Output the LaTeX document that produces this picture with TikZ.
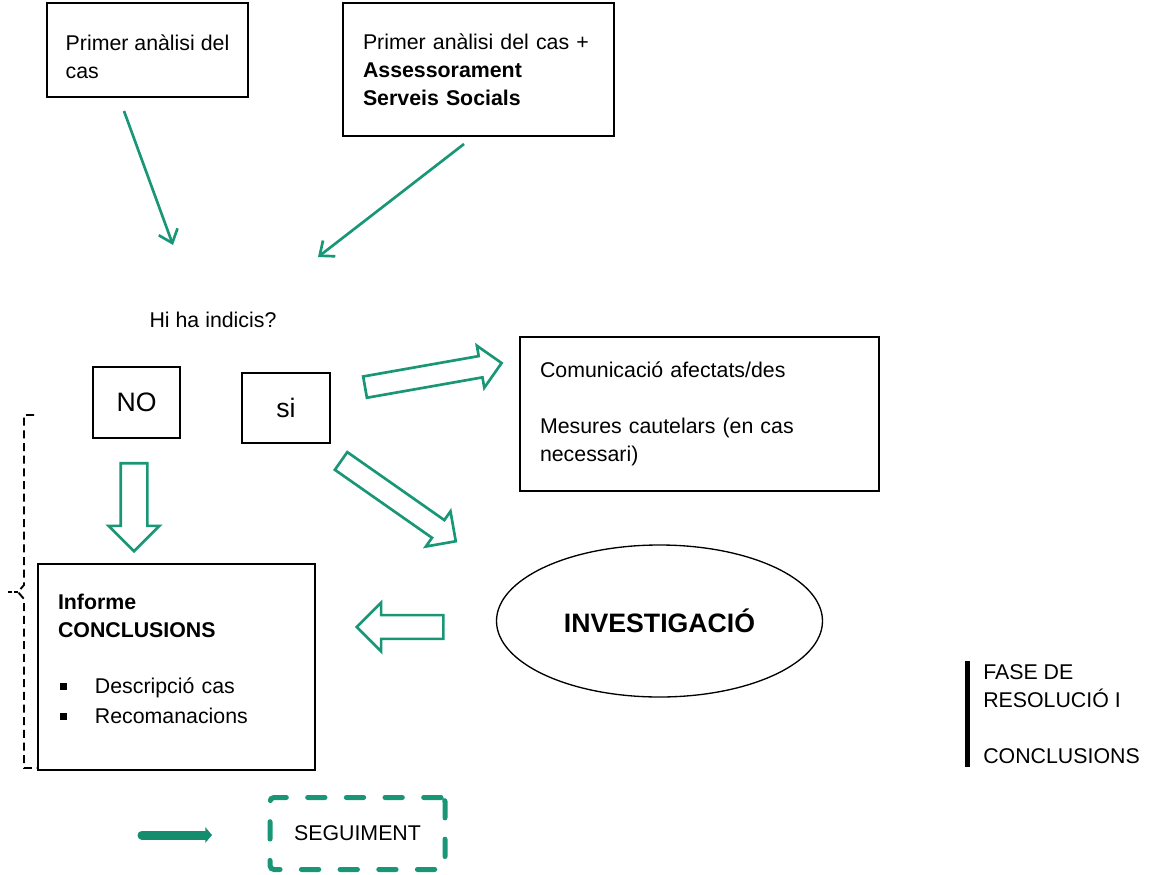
\documentclass[tikz,border=0pt]{standalone}
\usepackage{fontspec}
\setmainfont{Liberation Sans}
\usepackage{tikz}
\usepackage{xcolor}
\usetikzlibrary{shapes.geometric}
\usetikzlibrary{shapes.arrows}
\usetikzlibrary{arrows.meta}

\definecolor{flowgreen}{RGB}{24,150,118}
\definecolor{darkgreen}{RGB}{20,140,110}

\tikzset{
  box/.style={draw, line width=1pt, align=left, inner sep=0pt},
  thinarrow/.style={draw=flowgreen, line width=2pt, -{Straight Barb[length=9pt,width=15pt]}},
  blockarrow/.style={single arrow, draw=flowgreen, line width=2pt, inner xsep=0pt, single arrow head indent=0pt}
}

\begin{document}
\begin{tikzpicture}[x=0.75pt,y=-0.75pt,font=\fontsize{16}{21}\selectfont]
\useasboundingbox (0,0) rectangle (1154,875);

\node[box, minimum width=150.75pt, minimum height=70.5pt] (P1) at (147.5,50) {\rule{0pt}{22pt}Primer anàlisi del\\cas};
\node[box, minimum width=203.25pt, minimum height=99.75pt, text width=173.25pt] (P2) at (478.5,69.5) {Primer anàlisi del cas +\\\textbf{Assessorament}\\\textbf{Serveis Socials}};

\coordinate (a1) at (124,111);
\coordinate (b1) at (173,245);
\coordinate (a2) at (464,144);
\coordinate (b2) at (318,257);
\draw [thinarrow] (a1) -- (b1);
\draw [thinarrow] (a2) -- (b2);

\node (Q) at (213,320) {Hi ha indicis?};
\node[box, minimum width=65.25pt, minimum height=53.25pt, font=\fontsize{20}{24}\selectfont] (NO) at (136.5,402.5) {NO};
\node[box, minimum width=66pt, minimum height=52.5pt, font=\fontsize{20}{24}\selectfont] (SI) at (286,408) {si};

\node[box, minimum width=269.25pt, minimum height=115.5pt, text width=239.25pt] (C) at (699.5,414) {Comunicació afectats/des\\[21pt]Mesures cautelars (en cas\\necessari)};
\node[shape=ellipse, draw, line width=1pt, inner sep=0pt, minimum width=244.5pt, minimum height=114pt, font=\fontsize{20}{24}\selectfont\bfseries] (INV) at (659.5,621) {INVESTIGACIÓ};
\node[box, minimum width=207.75pt, minimum height=154.5pt, text width=177.75pt] (INF) at (176.5,667) {\textbf{Informe}\\\textbf{CONCLUSIONS}\\[21pt]\hspace*{1.5pt}\raisebox{2.5pt}{\rule{5.2pt}{5.2pt}}\hspace{21pt}Descripció cas\\[1.5pt]\hspace*{1.5pt}\raisebox{2.5pt}{\rule{5.2pt}{5.2pt}}\hspace{21pt}Recomanacions\\[-9pt]\mbox{}};

% block arrows
\node[blockarrow, minimum height=104pt, inner ysep=7.1pt, single arrow head extend=7.9pt, rotate=10] (R1) at (428,376) {};
\node[blockarrow, minimum height=105pt, inner ysep=7.1pt, single arrow head extend=8pt, rotate=-35] (R2) at (394,498) {};
\node[blockarrow, minimum height=66pt, inner ysep=9pt, single arrow head extend=9pt, rotate=-90] (R3) at (134,500.5) {};
\node[blockarrow, minimum height=65pt, inner ysep=7.9pt, single arrow head extend=9.4pt, rotate=180] (R4) at (406,627) {};

% dashed bracket
\draw[line width=1.4pt, dash pattern=on 6pt off 3.5pt] (34,415) -- (24,415) -- (24,585) -- (18,592) -- (24,599) -- (24,768) -- (38,768);
\draw[line width=1.4pt] (18,592) -- (14,592) (12,592) -- (8,592);

% phase label
\draw[line width=3.75pt] (967,661) -- (967,767);
\node[align=left, anchor=west, inner sep=0pt] (F) at (983,714) {FASE DE\\RESOLUCIÓ I\\[21pt]CONCLUSIONS};

% follow-up
\node[draw=flowgreen, line width=3.75pt, rounded corners=3pt, dash pattern=on 13pt off 16pt, line cap=round, minimum width=131.25pt, minimum height=54pt] (S) at (357.5,833.5) {SEGUIMENT};
\coordinate (g1) at (142,835);
\coordinate (g2) at (212,835);
\draw[darkgreen, line width=6.75pt, line cap=round, -{Triangle[length=5pt,width=11.5pt]}] (g1) -- (g2);
\end{tikzpicture}
\end{document}
